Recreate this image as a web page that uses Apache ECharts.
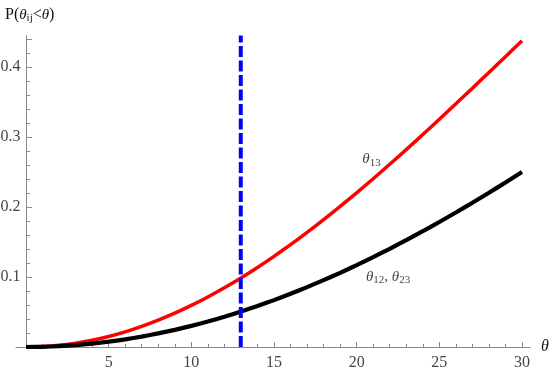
<!DOCTYPE html>
<html>
<head>
<meta charset="utf-8">
<script src="https://cdn.jsdelivr.net/npm/echarts@6/dist/echarts.min.js"></script>
<style>
html,body{margin:0;padding:0;background:#fff;}
#main{width:554px;height:371px;}
</style>
</head>
<body>
<div id="main"></div>
<script>
// θ in degrees at each degree
var theta = [0,1,2,3,4,5,6,7,8,9,10,11,12,13,14,15,16,17,18,19,20,21,22,23,24,25,26,27,28,29,30];
// θ13 (red)
var p13 = [0,0.0006,0.0024,0.0055,0.0097,0.0151,0.0217,0.0295,0.0384,0.0483,0.0594,0.0715,0.0846,0.0986,0.1136,
	0.1295,0.1462,0.1637,0.1819,0.2008,0.2203,0.2404,0.2610,0.2820,0.3035,0.3253,0.3474,0.3697,0.3922,0.4148,0.4375];
// θ12, θ23 (black)
var p12 = [0,0.0003,0.0012,0.0027,0.0049,0.0076,0.0109,0.0149,0.0194,0.0245,0.0302,0.0364,0.0432,0.0506,0.0585,
	0.0670,0.0760,0.0855,0.0955,0.1060,0.1170,0.1284,0.1403,0.1527,0.1654,0.1786,0.1922,0.2061,0.2204,0.2350,0.2500];
var cutTheta = 13;       //!< 虚线位置
var xTicks = [5,10,15,20,25,30];
var yTicks = [0.1,0.2,0.3,0.4];

function pairs(xs,ys) {
	var out=[];
	for (var i=0;i<xs.length;++i) out.push([xs[i],ys[i]]);
	return out;
}

var serif = 'Liberation Serif';
var gray = '#8a8a8a';
var ink = '#111';
var rich = {
	n: {fontFamily:serif, fontSize:15, fontWeight:'normal', color:ink},
	k: {fontFamily:serif, fontSize:16, fontWeight:'normal', color:ink},
	t: {fontFamily:serif, fontSize:15, fontWeight:'normal', fontStyle:'italic', color:ink},
	s: {fontFamily:serif, fontSize:11, fontWeight:'normal', color:ink, padding:[7,0,0,0]}
};

// 文字标注用的透明散点
function textSeries(name,data,label) {
	return {
		name: name, type: 'scatter', xAxisIndex: 0, yAxisIndex: 0,
		symbolSize: 1, itemStyle: {color:'rgba(0,0,0,0)'},
		silent: true, clip: false, z: 5,
		data: data,
		label: echarts.util.extend({show:true, rich:rich}, label)
	};
}

var chart = echarts.init(document.getElementById('main'));
var option = {
	animation: false,
	textStyle: {fontFamily: serif},
	title: {
		left: 0, top: 1,
		text: '{k|P(}{t|θ}{s|ij}{k|<}{t|θ}{k|)}',
		textStyle: {fontWeight:'normal', fontFamily:serif, rich: rich}
	},
	grid: [
		{left:26, right:32, top:39, bottom:24},      // 数据
		{left:16, right:24, top:35.5, bottom:24}     // 坐标轴线
	],
	xAxis: [{
		gridIndex: 0, type: 'value', min: 0, max: 30, interval: 5,
		axisLine: {show:false},
		axisTick: {inside:true, length:5, lineStyle:{color:gray}},
		minorTick: {show:true, splitNumber:5, length:3, lineStyle:{color:gray}},
		splitLine: {show:false},
		axisLabel: {show:false}
	},{
		gridIndex: 1, type: 'value', min: -0.6, max: 30.5,
		axisLine: {onZero:true, lineStyle:{color:gray, width:1}},
		axisTick: {show:false}, axisLabel: {show:false}, splitLine: {show:false},
		name: 'θ', nameLocation: 'end', nameGap: 11,
		nameTextStyle: {fontFamily:serif, fontSize:16, fontStyle:'italic', color:ink, align:'left', verticalAlign:'middle'}
	}],
	yAxis: [{
		gridIndex: 0, type: 'value', min: 0, max: 0.44, interval: 0.1,
		axisLine: {show:false},
		axisTick: {inside:true, length:6, lineStyle:{color:gray}},
		minorTick: {show:true, splitNumber:5, length:4, lineStyle:{color:gray}},
		splitLine: {show:false},
		axisLabel: {show:false}
	},{
		gridIndex: 1, type: 'value', min: 0, max: 0.445,
		axisLine: {onZero:true, lineStyle:{color:gray, width:1}},
		axisTick: {show:false}, axisLabel: {show:false}, splitLine: {show:false}
	}],
	series: [{
		name: 'θ13', type: 'line', xAxisIndex: 0, yAxisIndex: 0,
		data: pairs(theta,p13), showSymbol: false, symbol: 'none', smooth: 0.2,
		lineStyle: {color:'#ff0000', width:3.5}
	},{
		name: 'θ12, θ23', type: 'line', xAxisIndex: 0, yAxisIndex: 0,
		data: pairs(theta,p12), showSymbol: false, symbol: 'none', smooth: 0.2,
		lineStyle: {color:'#000000', width:4.2}
	},{
		name: 'cut', type: 'line', xAxisIndex: 1, yAxisIndex: 1,
		data: [[cutTheta,0],[cutTheta,0.445]], symbol: 'none',
		lineStyle: {color:'#0000ff', width:4, type:[11,3.5]}
	},
	// 刻度数字
	textSeries('xTickLabels', xTicks.map(function(v){return [v,0];}), {
		position: 'bottom', distance: 7,
		formatter: function(p){ return '{k|'+p.value[0]+'}'; }
	}),
	textSeries('yTickLabels', yTicks.map(function(v){return [0,v];}), {
		position: 'left', distance: 5,
		formatter: function(p){ return '{k|'+p.value[1].toFixed(1)+'}'; }
	}),
	// 曲线标注
	textSeries('curveLabels', [
		{value:[20.9,0.268], label:{formatter:'{t|θ}{s|13}'}},
		{value:[21.9,0.1], label:{formatter:'{t|θ}{s|12}{n|, }{t|θ}{s|23}'}}
	], {position:'inside'})
	]
};
chart.setOption(option);
</script>
</body>
</html>
